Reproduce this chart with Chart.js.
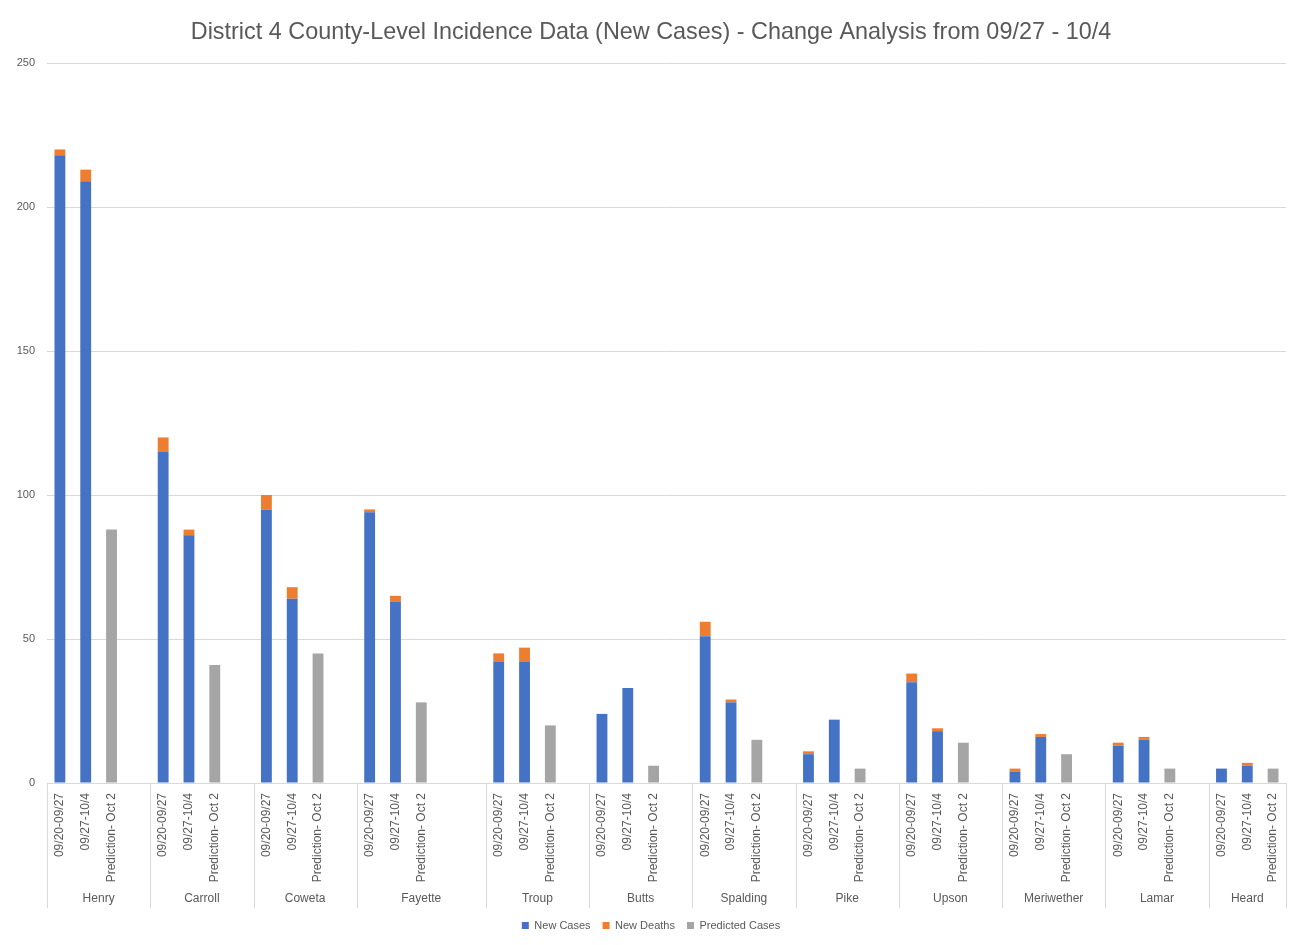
<!DOCTYPE html>
<html><head><meta charset="utf-8">
<script src="https://cdn.jsdelivr.net/npm/chart.js@4/dist/chart.umd.min.js"></script>
<style>html,body{margin:0;padding:0;background:#fff;} canvas{display:block}</style>
</head><body>
<canvas id="c" width="1302" height="945"></canvas>
<script>
const chartTitle = 'District 4 County-Level Incidence Data (New Cases) - Change Analysis from 09/27 - 10/4';
const counties = ['Henry','Carroll','Coweta','Fayette','Troup','Butts','Spalding','Pike','Upson','Meriwether','Lamar','Heard'];
const periods = ['09/20-09/27','09/27-10/4','Prediction- Oct 2'];
const blankSlotsAfter = [1,1,1,2,1,1,1,1,1,1,1,0];
const casesWk1 = [218,115,95,94,42,24,51,10,35,4,13,5];
const casesWk2 = [209,86,64,63,42,33,28,22,18,16,15,6];
const deathsWk1 = [2,5,5,1,3,0,5,1,3,1,1,0];
const deathsWk2 = [4,2,4,2,5,0,1,0,1,1,1,1];
const predictedCases = [88,41,45,28,20,6,15,5,14,10,5,5];
const yTicks = [0,50,100,150,200,250];

const TXT = '#595959', GRID = '#d9d9d9', FONT = '"Liberation Sans", Arial, sans-serif';

const labels = [], dCases = [], dDeaths = [], dPred = [], groups = [];
counties.forEach((c, i) => {
  const start = labels.length;
  labels.push(periods[0]); dCases.push(casesWk1[i]); dDeaths.push(deathsWk1[i]); dPred.push(null);
  labels.push(periods[1]); dCases.push(casesWk2[i]); dDeaths.push(deathsWk2[i]); dPred.push(null);
  labels.push(periods[2]); dCases.push(null); dDeaths.push(null); dPred.push(predictedCases[i]);
  for (let k = 0; k < blankSlotsAfter[i]; k++) { labels.push(''); dCases.push(null); dDeaths.push(null); dPred.push(null); }
  groups.push({ name: c, start, end: labels.length });
});

const groupAxis = {
  id: 'groupAxis',
  afterDraw(chart) {
    const x = chart.scales.x, ctx = chart.ctx;
    const slot = x.width / labels.length;
    const top = chart.chartArea.bottom;
    ctx.save();
    ctx.strokeStyle = GRID; ctx.lineWidth = 1;
    ctx.fillStyle = TXT; ctx.font = '12px ' + FONT;
    ctx.textAlign = 'center'; ctx.textBaseline = 'middle';
    groups.forEach((g, gi) => {
      const l = x.getPixelForValue(g.start) - slot / 2;
      const r = x.getPixelForValue(g.end - 1) + slot / 2;
      const lines = gi === groups.length - 1 ? [l, r] : [l];
      lines.forEach(px => {
        const p = Math.round(px) + 0.5;
        ctx.beginPath(); ctx.moveTo(p, top); ctx.lineTo(p, top + 125); ctx.stroke();
      });
      ctx.fillText(g.name, (l + r) / 2, top + 116);
    });
    ctx.restore();
  }
};

new Chart(document.getElementById('c'), {
  type: 'bar',
  data: {
    labels,
    datasets: [
      { label: 'New Cases', data: dCases, backgroundColor: '#4472C4' },
      { label: 'New Deaths', data: dDeaths, backgroundColor: '#ED7D31' },
      { label: 'Predicted Cases', data: dPred, backgroundColor: '#A5A5A5' }
    ]
  },
  options: {
    responsive: false,
    animation: false,
    layout: { padding: { left: 0, right: 0, top: 0, bottom: 4 } },
    datasets: { bar: { barPercentage: 0.42, categoryPercentage: 1, skipNull: false } },
    plugins: {
      title: { display: true, text: chartTitle, color: TXT, font: { family: FONT, size: 23.4, weight: 'normal' }, padding: { top: 19, bottom: 16 } },
      legend: { position: 'bottom', labels: { color: TXT, font: { family: FONT, size: 11 }, boxWidth: 7, boxHeight: 7, padding: 12 } },
      tooltip: { enabled: false }
    },
    scales: {
      x: {
        stacked: true,
        grid: { display: false },
        border: { display: false },
        ticks: { color: TXT, font: { family: FONT, size: 12 }, maxRotation: 90, minRotation: 90, autoSkip: false, padding: 2 },
        afterFit(s) { s.height = 125; }
      },
      y: {
        stacked: true, min: 0, max: 250,
        afterBuildTicks(s) { s.ticks = yTicks.map(v => ({ value: v })); },
        grid: { color: GRID, drawTicks: false },
        border: { display: false },
        ticks: { color: TXT, font: { family: FONT, size: 11 }, padding: 12 },
        afterFit(s) { s.width = 47; }
      },
      yRight: {
        position: 'right', min: 0, max: 250,
        grid: { display: false }, border: { display: false },
        ticks: { display: false },
        afterFit(s) { s.width = 16; }
      }
    }
  },
  plugins: [groupAxis]
});
</script>
</body></html>
